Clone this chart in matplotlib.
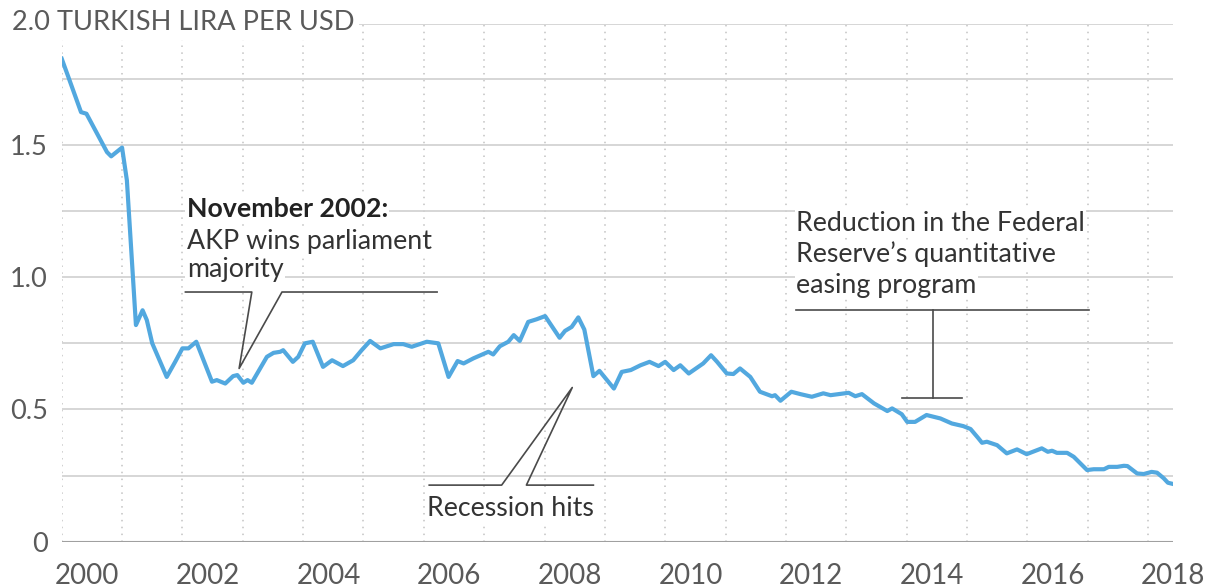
import numpy as np
import matplotlib.pyplot as plt

plt.rcParams["font.family"] = ["Lato", "DejaVu Sans"]

# exchange rate (decimal year, value)
years = [2000.00, 2000.11, 2000.32, 2000.41, 2000.75, 2000.82, 2001.00, 2001.08,
         2001.23, 2001.34, 2001.41, 2001.50, 2001.74, 2001.88, 2002.00, 2002.10,
         2002.23, 2002.49, 2002.57, 2002.71, 2002.84, 2002.91, 2003.01, 2003.08,
         2003.15, 2003.40, 2003.51, 2003.62, 2003.67, 2003.83, 2003.92, 2004.03,
         2004.16, 2004.33, 2004.48, 2004.66, 2004.83, 2004.97, 2005.11, 2005.28,
         2005.50, 2005.66, 2005.80, 2006.05, 2006.24, 2006.41, 2006.56, 2006.66,
         2006.82, 2007.07, 2007.15, 2007.26, 2007.40, 2007.49, 2007.59, 2007.73,
         2007.87, 2008.01, 2008.25, 2008.34, 2008.45, 2008.56, 2008.66, 2008.81,
         2008.91, 2009.15, 2009.28, 2009.43, 2009.59, 2009.74, 2009.89, 2010.00,
         2010.14, 2010.25, 2010.39, 2010.63, 2010.76, 2010.86, 2011.02, 2011.13,
         2011.24, 2011.41, 2011.57, 2011.77, 2011.82, 2011.91, 2012.09, 2012.24,
         2012.43, 2012.62, 2012.74, 2013.04, 2013.15, 2013.26, 2013.46, 2013.68,
         2013.76, 2013.92, 2014.01, 2014.14, 2014.33, 2014.56, 2014.75, 2014.94,
         2015.06, 2015.19, 2015.25, 2015.33, 2015.50, 2015.66, 2015.83, 2015.99,
         2016.24, 2016.34, 2016.41, 2016.49, 2016.66, 2016.77, 2016.99, 2017.10,
         2017.27, 2017.35, 2017.49, 2017.60, 2017.66, 2017.82, 2017.93, 2018.06,
         2018.15, 2018.26, 2018.33, 2018.42]
rate = [1.826, 1.757, 1.624, 1.618, 1.473, 1.457, 1.490, 1.366,
        0.819, 0.875, 0.838, 0.750, 0.623, 0.680, 0.731, 0.731,
        0.756, 0.605, 0.611, 0.598, 0.626, 0.630, 0.601, 0.611,
        0.601, 0.699, 0.714, 0.718, 0.724, 0.680, 0.699, 0.750,
        0.756, 0.661, 0.686, 0.664, 0.686, 0.724, 0.759, 0.731,
        0.747, 0.747, 0.737, 0.756, 0.750, 0.623, 0.683, 0.674,
        0.693, 0.718, 0.708, 0.739, 0.756, 0.781, 0.759, 0.831,
        0.841, 0.853, 0.771, 0.797, 0.812, 0.848, 0.802, 0.626,
        0.646, 0.579, 0.642, 0.649, 0.667, 0.680, 0.664, 0.680,
        0.649, 0.667, 0.636, 0.674, 0.705, 0.680, 0.636, 0.634,
        0.655, 0.623, 0.567, 0.550, 0.554, 0.533, 0.567, 0.558,
        0.548, 0.561, 0.554, 0.563, 0.550, 0.558, 0.523, 0.494,
        0.504, 0.482, 0.453, 0.453, 0.479, 0.466, 0.447, 0.437,
        0.426, 0.391, 0.374, 0.378, 0.365, 0.334, 0.349, 0.331,
        0.353, 0.340, 0.344, 0.336, 0.336, 0.321, 0.271, 0.274,
        0.274, 0.283, 0.283, 0.287, 0.286, 0.258, 0.256, 0.264,
        0.261, 0.240, 0.223, 0.218]

grid_years = list(range(2000, 2019))
label_years = list(range(2000, 2019, 2))
y_ticks = [0, 0.5, 1.0, 1.5]
y_labels = ["0", "0.5", "1.0", "1.5"]
y_grid = [0.25, 0.5, 0.75, 1.0, 1.25, 1.5, 1.75]

fig = plt.figure(figsize=(12.1, 5.88), dpi=100)
ax = fig.add_axes([0.051, 0.0787, 0.9187, 0.8804])
x_min, x_max = 2000.0, 2018.42
y_top = 1.957
ax.set_xlim(x_min, x_max)
ax.set_ylim(0, y_top)

# grid
ax.vlines(grid_years, 0, y_top, colors="#c2c2c2", linestyles=(0, (1, 3.5)), linewidth=1.1, zorder=1)
ax.hlines(y_grid, x_min, x_max, colors="#d0d0d0", linewidth=1.2, zorder=1)
ax.hlines([y_top], x_min, x_max, colors="#d0d0d0", linewidth=1.2, zorder=1)
ax.hlines([0], x_min, x_max, colors="#a0a0a0", linewidth=1.5, zorder=2)

for s in ax.spines.values():
    s.set_visible(False)

ax.set_xticks([y + 0.42 for y in label_years], [str(y) for y in label_years])
ax.set_yticks(y_ticks, y_labels)
ax.tick_params(length=0, colors="#5a5a5a")
ax.tick_params(axis="x", labelsize=20, pad=15)
ax.tick_params(axis="y", labelsize=19.5, pad=10)

ax.plot(years, rate, color="#52a8df", linewidth=3, solid_joinstyle="round", zorder=4)

fig.text(12 / 1210, 1 - 23 / 588, "2.0 TURKISH LIRA PER USD", fontsize=19.6, color="#5a5a5a",
         va="center", ha="left", bbox=dict(facecolor="white", edgecolor="none", pad=3))

ann = "#4a4a4a"
fs = 19.3
box = dict(facecolor="white", edgecolor="none", pad=1)

# November 2002 callout
ax.text(2002.07, 1.228, "November 2002:", fontsize=fs, fontweight="bold", color="#222222",
        va="baseline", bbox=box, zorder=5)
ax.text(2002.07, 1.108, "AKP wins parliament", fontsize=fs, color="#333333", va="baseline", bbox=box, zorder=5)
ax.text(2002.07, 1.001, "majority", fontsize=fs, color="#333333", va="baseline", bbox=box, zorder=5)
ax.plot([2002.05, 2003.15, 2002.94, 2003.65, 2006.22],
        [0.944, 0.944, 0.655, 0.944, 0.944], color=ann, linewidth=1.2, zorder=3)

# recession callout
ax.plot([2006.09, 2007.29, 2008.46, 2007.70, 2008.81],
        [0.214, 0.214, 0.583, 0.214, 0.214], color=ann, linewidth=1.2, zorder=3)
ax.text(2006.05, 0.097, "Recession hits", fontsize=fs, color="#333333", va="baseline", bbox=box, zorder=5)

# Fed tapering callout
ax.text(2012.17, 1.175, "Reduction in the Federal", fontsize=fs, color="#333333", va="baseline", bbox=box, zorder=5)
ax.text(2012.17, 1.058, "Reserve\u2019s quantitative", fontsize=fs, color="#333333", va="baseline", bbox=box, zorder=5)
ax.text(2012.17, 0.941, "easing program", fontsize=fs, color="#333333", va="baseline", bbox=box, zorder=5)
ax.plot([2012.17, 2017.02], [0.875, 0.875], color=ann, linewidth=1.2, zorder=3)
ax.plot([2014.44, 2014.44], [0.875, 0.542], color=ann, linewidth=1.2, zorder=3)
ax.plot([2013.92, 2014.91], [0.542, 0.542], color=ann, linewidth=1.2, zorder=3)

fig.savefig("out.png", dpi=100, facecolor="white")
